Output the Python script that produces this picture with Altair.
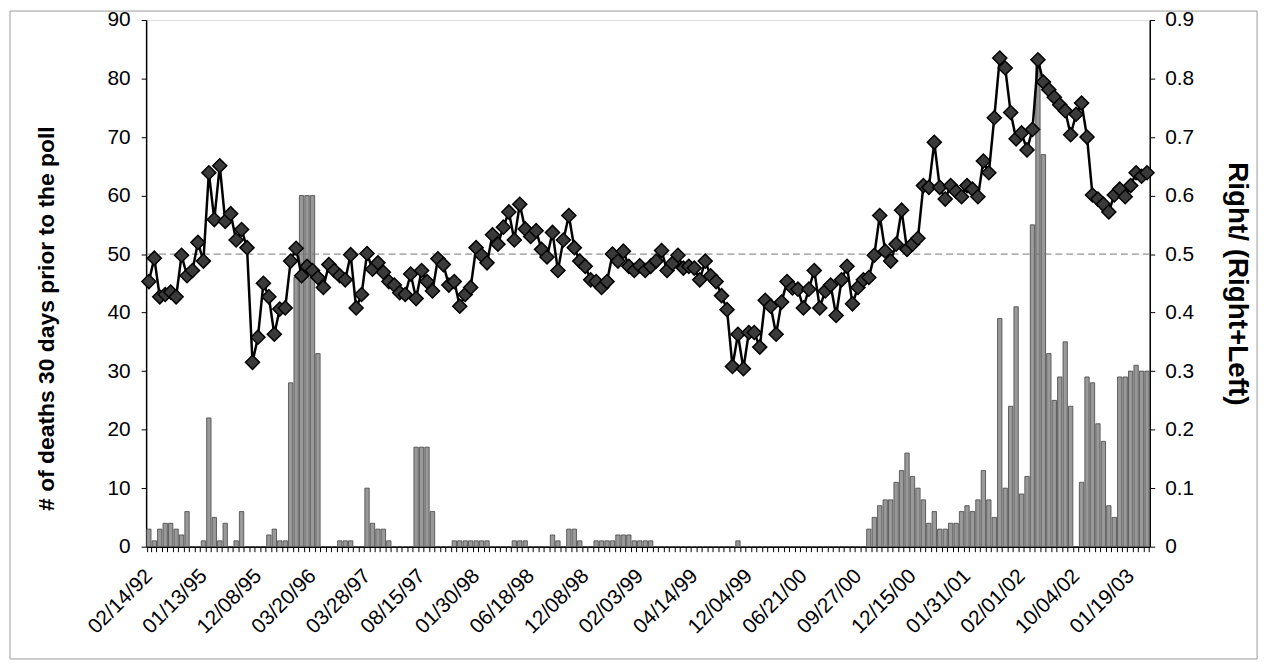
import altair as alt
import pandas as pd

# ---------------- data ----------------
tick_labels = ["02/14/92", "01/13/95", "12/08/95", "03/20/96", "03/28/97",
               "08/15/97", "01/30/98", "06/18/98", "12/08/98", "02/03/99",
               "04/14/99", "12/04/99", "06/21/00", "09/27/00", "12/15/00",
               "01/31/01", "02/01/02", "10/04/02", "01/19/03"]

# deaths in the 30 days prior to each poll (bars, left axis)
deaths_a = [3, 1, 3, 4, 4, 3, 2, 6, 0, 0, 1, 22, 5, 1, 4, 0, 1, 6, 0, 0,
            0, 0, 2, 3, 1, 1, 28, 46, 60, 60, 60, 33, 0, 0, 0, 1, 1, 1, 0, 0,
            10, 4, 3, 3, 1, 0, 0, 0, 0, 17, 17, 17, 6, 0, 0, 0, 1, 1, 1, 1,
            1, 1, 1, 0, 0, 0, 0, 1, 1, 1, 0, 0, 0, 0, 2, 1, 0, 3, 3, 1,
            0, 0, 1, 1, 1, 1, 2, 2, 2, 1, 1, 1, 1]
deaths_b = [0, 0, 0, 0, 0, 0, 0, 0, 0, 0, 0, 0, 0, 0, 0, 1, 0, 0, 0, 0,
            0, 0, 0, 0, 0, 0, 0, 0, 0, 0, 0, 0, 0, 0, 0, 0, 0, 0, 0]
deaths_c = [3, 5, 7, 8, 8, 11, 13, 16, 12, 10, 8, 4, 6, 3, 3, 4, 4, 6, 7, 6,
            8, 13, 8, 5, 39, 10, 24, 41, 9, 12, 55, 84, 67, 33, 25, 29, 35, 24, 0, 11,
            29, 28, 21, 18, 7, 5, 29, 29, 30, 31, 30, 30]

# Right / (Right + Left) share (line, right axis)
ratio_a = [0.453, 0.493, 0.427, 0.431, 0.435, 0.427, 0.498, 0.463, 0.472, 0.520,
           0.488, 0.639, 0.559, 0.651, 0.556, 0.569, 0.524, 0.542, 0.511, 0.315,
           0.358, 0.450, 0.427, 0.363, 0.406, 0.408, 0.488, 0.510, 0.463, 0.479,
           0.472, 0.460, 0.443, 0.482, 0.472, 0.463, 0.456, 0.499, 0.408, 0.431,
           0.501, 0.474, 0.485, 0.469, 0.453, 0.447, 0.434, 0.431, 0.466, 0.424]
ratio_b = [0.472, 0.453, 0.437, 0.492, 0.482, 0.447, 0.453, 0.411, 0.431, 0.443,
           0.511, 0.498, 0.485, 0.533, 0.517, 0.546, 0.572, 0.524, 0.585, 0.543,
           0.530, 0.540, 0.508, 0.495, 0.537, 0.472, 0.524, 0.566, 0.511, 0.488,
           0.479, 0.456, 0.453, 0.443, 0.453, 0.500, 0.488, 0.505, 0.479, 0.472,
           0.480, 0.472, 0.479, 0.488, 0.506, 0.472, 0.484, 0.498, 0.476, 0.479]
ratio_c = [0.476, 0.456, 0.488, 0.463, 0.453, 0.429, 0.405, 0.308, 0.363, 0.304,
           0.366, 0.366, 0.341, 0.421, 0.411, 0.363, 0.418, 0.453, 0.442, 0.440,
           0.408, 0.440, 0.472, 0.408, 0.437, 0.447, 0.395, 0.456, 0.479, 0.415,
           0.443, 0.456, 0.460, 0.498, 0.566, 0.505, 0.488, 0.517, 0.575, 0.508,
           0.517, 0.527, 0.617, 0.614, 0.691, 0.614, 0.594, 0.617, 0.607, 0.598]
ratio_d = [0.617, 0.611, 0.598, 0.659, 0.639, 0.733, 0.835, 0.818, 0.742, 0.697,
           0.707, 0.678, 0.713, 0.832, 0.794, 0.781, 0.768, 0.755, 0.745, 0.704,
           0.739, 0.758, 0.700, 0.601, 0.594, 0.585, 0.572, 0.601, 0.611, 0.598,
           0.617, 0.639, 0.633, 0.639]

deaths = deaths_a + deaths_b + deaths_c
ratio = ratio_a + ratio_b + ratio_c + ratio_d
n = min(len(deaths), len(ratio))
df = pd.DataFrame({"idx": list(range(n)), "deaths": deaths[:n], "ratio": ratio[:n]})
ref_df = pd.DataFrame({"ref": [0.5]})

FONT = "Liberation Sans"
label_js = "[" + ",".join("'" + t + "'" for t in tick_labels) + "]"
label_expr = "datum.value % 10 == 0 ? " + label_js + "[datum.value / 10] : ''"

x_enc = alt.X(
    "idx:O",
    scale=alt.Scale(paddingInner=0.2, paddingOuter=0.1),
    axis=alt.Axis(title=None, labelAngle=-45, labelAlign="right", labelBaseline="middle",
                  labelExpr=label_expr, labelOverlap=False, labelFont=FONT,
                  labelFontSize=21, labelColor="black", labelPadding=21,
                  labelOffset=0,
                  tickBand="extent", tickSize=5, tickColor="black",
                  domainColor="black", domainWidth=1.5),
)

bars = alt.Chart(df).mark_bar(color="#999999", stroke="#444444", strokeWidth=0.8).encode(
    x=x_enc,
    y=alt.Y("deaths:Q", scale=alt.Scale(domain=[0, 90], nice=False),
            axis=alt.Axis(title="# of deaths 30 days prior to the poll",
                          values=list(range(0, 91, 10)), grid=False,
                          labelFont=FONT, labelFontSize=21, labelColor="black",
                          labelPadding=11, tickSize=5, tickColor="black",
                          domainColor="black", domainWidth=1.5,
                          titleFont=FONT, titleFontSize=23, titleFontWeight="bold",
                          titleColor="black", titlePadding=49, titleY=300)),
)

ratio_scale = alt.Scale(domain=[0, 0.9], nice=False)
ratio_axis = alt.Axis(title="Right/ (Right+Left)", orient="right",
                      values=[round(0.1 * k, 1) for k in range(10)], format=".1~f",
                      grid=False, labelFont=FONT, labelFontSize=21, labelColor="black",
                      labelPadding=10, tickSize=5, tickColor="black",
                      domainColor="black", domainWidth=1.5,
                      titleFont=FONT, titleFontSize=28, titleFontWeight="bold",
                      titleColor="black", titlePadding=29)

ref_rule = alt.Chart(ref_df).mark_rule(color="#777777", strokeDash=[7, 4], strokeWidth=1).encode(
    y=alt.Y("ref:Q", scale=ratio_scale, axis=ratio_axis)
)

line = alt.Chart(df).mark_line(
    color="black", strokeWidth=2.5,
    point=alt.OverlayMarkDef(shape="diamond", size=200, filled=True, fill="#3a3a3a",
                             stroke="black", strokeWidth=1.5),
).encode(
    x=x_enc,
    y=alt.Y("ratio:Q", scale=ratio_scale, axis=ratio_axis),
)

right_layer = alt.layer(ref_rule, line)

frame = alt.Chart(ref_df).mark_rect(fill=None, stroke="#9a9a9a", strokeWidth=1).encode(
    x=alt.value(-137), x2=alt.value(1118), y=alt.value(-9), y2=alt.value(643)
)

chart = alt.layer(frame, bars, right_layer).resolve_scale(y="independent").properties(
    width=1010, height=530,
    autosize=alt.AutoSizeParams(type="none"),
    padding={"left": 139, "top": 10, "right": 118, "bottom": 117},
).configure_view(stroke="#8a8a8a", strokeWidth=1).configure(background="white")

chart.save("out.html", embed_options={"renderer": "svg", "actions": False})
